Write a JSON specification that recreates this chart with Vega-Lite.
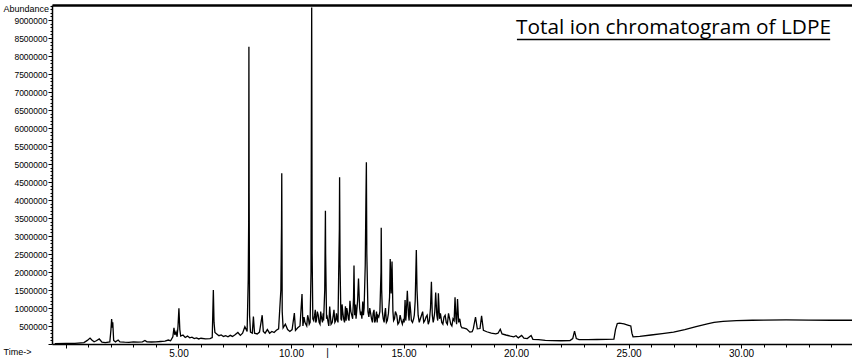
{
  "$schema": "https://vega.github.io/schema/vega-lite/v6.json",
  "width": 800,
  "height": 339,
  "autosize": "none",
  "padding": {"left": 52, "top": 5, "right": 0, "bottom": 17},
  "background": "white",
  "config": {"view": {"stroke": null}},
  "datasets": {
    "tic": [
      {"time": -0.5, "abundance": 10000}, {"time": 0.0, "abundance": 15000}, {"time": 0.4, "abundance": 20000},
      {"time": 0.8, "abundance": 40000}, {"time": 0.95, "abundance": 100000}, {"time": 1.07, "abundance": 165000},
      {"time": 1.15, "abundance": 110000}, {"time": 1.25, "abundance": 60000}, {"time": 1.35, "abundance": 90000},
      {"time": 1.48, "abundance": 140000}, {"time": 1.6, "abundance": 50000}, {"time": 1.75, "abundance": 40000},
      {"time": 1.95, "abundance": 60000}, {"time": 2.0, "abundance": 400000}, {"time": 2.03, "abundance": 690000},
      {"time": 2.06, "abundance": 450000}, {"time": 2.08, "abundance": 600000}, {"time": 2.12, "abundance": 100000},
      {"time": 2.2, "abundance": 60000}, {"time": 2.32, "abundance": 110000}, {"time": 2.4, "abundance": 60000},
      {"time": 2.6, "abundance": 50000}, {"time": 2.8, "abundance": 45000}, {"time": 3.0, "abundance": 60000},
      {"time": 3.2, "abundance": 50000}, {"time": 3.4, "abundance": 60000}, {"time": 3.51, "abundance": 100000},
      {"time": 3.6, "abundance": 60000}, {"time": 3.8, "abundance": 55000}, {"time": 4.0, "abundance": 60000},
      {"time": 4.2, "abundance": 70000}, {"time": 4.4, "abundance": 80000}, {"time": 4.55, "abundance": 110000},
      {"time": 4.65, "abundance": 90000}, {"time": 4.75, "abundance": 200000}, {"time": 4.8, "abundance": 450000},
      {"time": 4.84, "abundance": 250000}, {"time": 4.89, "abundance": 340000}, {"time": 4.94, "abundance": 200000},
      {"time": 4.98, "abundance": 500000}, {"time": 5.02, "abundance": 990000}, {"time": 5.06, "abundance": 400000},
      {"time": 5.1, "abundance": 220000}, {"time": 5.2, "abundance": 250000}, {"time": 5.3, "abundance": 180000},
      {"time": 5.4, "abundance": 220000}, {"time": 5.5, "abundance": 170000}, {"time": 5.6, "abundance": 190000},
      {"time": 5.7, "abundance": 150000}, {"time": 5.8, "abundance": 170000}, {"time": 5.9, "abundance": 140000},
      {"time": 6.0, "abundance": 160000}, {"time": 6.2, "abundance": 140000}, {"time": 6.4, "abundance": 150000},
      {"time": 6.5, "abundance": 180000}, {"time": 6.55, "abundance": 1500000}, {"time": 6.58, "abundance": 600000},
      {"time": 6.62, "abundance": 320000}, {"time": 6.7, "abundance": 280000}, {"time": 6.8, "abundance": 230000},
      {"time": 6.9, "abundance": 250000}, {"time": 7.0, "abundance": 210000}, {"time": 7.1, "abundance": 230000},
      {"time": 7.2, "abundance": 200000}, {"time": 7.3, "abundance": 240000}, {"time": 7.4, "abundance": 210000},
      {"time": 7.5, "abundance": 250000}, {"time": 7.64, "abundance": 320000}, {"time": 7.75, "abundance": 240000},
      {"time": 7.85, "abundance": 300000}, {"time": 7.95, "abundance": 480000}, {"time": 8.05, "abundance": 350000},
      {"time": 8.1, "abundance": 1800000}, {"time": 8.12, "abundance": 3400000}, {"time": 8.13, "abundance": 8260000},
      {"time": 8.14, "abundance": 4200000}, {"time": 8.16, "abundance": 800000}, {"time": 8.2, "abundance": 330000},
      {"time": 8.28, "abundance": 300000}, {"time": 8.33, "abundance": 760000}, {"time": 8.38, "abundance": 300000},
      {"time": 8.5, "abundance": 280000}, {"time": 8.6, "abundance": 330000}, {"time": 8.72, "abundance": 800000},
      {"time": 8.77, "abundance": 350000}, {"time": 8.85, "abundance": 300000}, {"time": 8.95, "abundance": 400000},
      {"time": 9.05, "abundance": 300000}, {"time": 9.15, "abundance": 350000}, {"time": 9.25, "abundance": 320000},
      {"time": 9.35, "abundance": 380000}, {"time": 9.45, "abundance": 420000}, {"time": 9.55, "abundance": 1500000},
      {"time": 9.58, "abundance": 3300000}, {"time": 9.59, "abundance": 4740000}, {"time": 9.61, "abundance": 900000},
      {"time": 9.65, "abundance": 450000}, {"time": 9.75, "abundance": 550000}, {"time": 9.85, "abundance": 400000},
      {"time": 9.95, "abundance": 350000}, {"time": 10.05, "abundance": 400000}, {"time": 10.15, "abundance": 860000},
      {"time": 10.2, "abundance": 380000}, {"time": 10.3, "abundance": 450000}, {"time": 10.4, "abundance": 500000},
      {"time": 10.49, "abundance": 1390000}, {"time": 10.53, "abundance": 500000}, {"time": 10.62, "abundance": 600000},
      {"time": 10.7, "abundance": 500000}, {"time": 10.78, "abundance": 700000}, {"time": 10.85, "abundance": 600000},
      {"time": 10.89, "abundance": 2000000}, {"time": 10.91, "abundance": 7200000}, {"time": 10.92, "abundance": 9350000},
      {"time": 10.94, "abundance": 2500000}, {"time": 10.97, "abundance": 700000}, {"time": 11.05, "abundance": 800000},
      {"time": 11.1, "abundance": 600000}, {"time": 11.17, "abundance": 900000}, {"time": 11.25, "abundance": 600000},
      {"time": 11.35, "abundance": 750000}, {"time": 11.45, "abundance": 650000}, {"time": 11.5, "abundance": 1500000},
      {"time": 11.53, "abundance": 3700000}, {"time": 11.54, "abundance": 2500000}, {"time": 11.58, "abundance": 700000},
      {"time": 11.65, "abundance": 600000}, {"time": 11.72, "abundance": 1040000}, {"time": 11.78, "abundance": 550000},
      {"time": 11.88, "abundance": 800000}, {"time": 11.95, "abundance": 600000}, {"time": 12.05, "abundance": 700000},
      {"time": 12.12, "abundance": 2000000}, {"time": 12.15, "abundance": 3200000}, {"time": 12.16, "abundance": 4630000},
      {"time": 12.18, "abundance": 2200000}, {"time": 12.22, "abundance": 700000}, {"time": 12.3, "abundance": 900000},
      {"time": 12.38, "abundance": 600000}, {"time": 12.48, "abundance": 1000000}, {"time": 12.55, "abundance": 700000},
      {"time": 12.62, "abundance": 1200000}, {"time": 12.7, "abundance": 800000}, {"time": 12.78, "abundance": 1300000},
      {"time": 12.8, "abundance": 2180000}, {"time": 12.83, "abundance": 800000}, {"time": 12.92, "abundance": 900000},
      {"time": 13.0, "abundance": 1820000}, {"time": 13.05, "abundance": 1000000}, {"time": 13.12, "abundance": 900000},
      {"time": 13.19, "abundance": 1180000}, {"time": 13.25, "abundance": 1000000}, {"time": 13.3, "abundance": 2200000},
      {"time": 13.33, "abundance": 4000000}, {"time": 13.35, "abundance": 5050000}, {"time": 13.37, "abundance": 2500000},
      {"time": 13.42, "abundance": 900000}, {"time": 13.5, "abundance": 1000000}, {"time": 13.58, "abundance": 700000},
      {"time": 13.65, "abundance": 850000}, {"time": 13.75, "abundance": 650000}, {"time": 13.85, "abundance": 800000},
      {"time": 13.95, "abundance": 900000}, {"time": 14.0, "abundance": 2000000}, {"time": 14.01, "abundance": 3230000},
      {"time": 14.03, "abundance": 1500000}, {"time": 14.1, "abundance": 700000}, {"time": 14.2, "abundance": 1000000},
      {"time": 14.28, "abundance": 650000}, {"time": 14.38, "abundance": 1300000}, {"time": 14.41, "abundance": 2360000},
      {"time": 14.45, "abundance": 1400000}, {"time": 14.49, "abundance": 2290000}, {"time": 14.53, "abundance": 900000},
      {"time": 14.6, "abundance": 700000}, {"time": 14.7, "abundance": 800000}, {"time": 14.8, "abundance": 600000},
      {"time": 14.9, "abundance": 650000}, {"time": 15.0, "abundance": 700000}, {"time": 15.07, "abundance": 1220000},
      {"time": 15.12, "abundance": 800000}, {"time": 15.17, "abundance": 1480000}, {"time": 15.22, "abundance": 800000},
      {"time": 15.28, "abundance": 1180000}, {"time": 15.35, "abundance": 650000}, {"time": 15.45, "abundance": 700000},
      {"time": 15.52, "abundance": 1200000}, {"time": 15.57, "abundance": 2610000}, {"time": 15.6, "abundance": 1500000},
      {"time": 15.65, "abundance": 800000}, {"time": 15.75, "abundance": 700000}, {"time": 15.85, "abundance": 900000},
      {"time": 15.95, "abundance": 650000}, {"time": 16.05, "abundance": 800000}, {"time": 16.15, "abundance": 650000},
      {"time": 16.2, "abundance": 1000000}, {"time": 16.24, "abundance": 1730000}, {"time": 16.28, "abundance": 800000},
      {"time": 16.35, "abundance": 700000}, {"time": 16.43, "abundance": 1430000}, {"time": 16.48, "abundance": 800000},
      {"time": 16.55, "abundance": 1410000}, {"time": 16.6, "abundance": 700000}, {"time": 16.7, "abundance": 600000},
      {"time": 16.8, "abundance": 750000}, {"time": 16.9, "abundance": 600000}, {"time": 17.0, "abundance": 850000},
      {"time": 17.1, "abundance": 550000}, {"time": 17.2, "abundance": 700000}, {"time": 17.29, "abundance": 1300000},
      {"time": 17.33, "abundance": 700000}, {"time": 17.4, "abundance": 1250000}, {"time": 17.45, "abundance": 600000},
      {"time": 17.55, "abundance": 500000}, {"time": 17.65, "abundance": 450000}, {"time": 17.8, "abundance": 420000},
      {"time": 17.95, "abundance": 330000}, {"time": 18.05, "abundance": 340000}, {"time": 18.1, "abundance": 420000},
      {"time": 18.2, "abundance": 750000}, {"time": 18.28, "abundance": 420000}, {"time": 18.4, "abundance": 430000},
      {"time": 18.47, "abundance": 780000}, {"time": 18.55, "abundance": 380000}, {"time": 18.7, "abundance": 340000},
      {"time": 18.9, "abundance": 300000}, {"time": 19.1, "abundance": 280000}, {"time": 19.2, "abundance": 300000},
      {"time": 19.3, "abundance": 410000}, {"time": 19.38, "abundance": 280000}, {"time": 19.55, "abundance": 250000},
      {"time": 19.75, "abundance": 220000}, {"time": 19.9, "abundance": 200000}, {"time": 20.0, "abundance": 230000},
      {"time": 20.1, "abundance": 170000}, {"time": 20.25, "abundance": 240000}, {"time": 20.35, "abundance": 160000},
      {"time": 20.5, "abundance": 150000}, {"time": 20.67, "abundance": 235000}, {"time": 20.75, "abundance": 130000},
      {"time": 21.0, "abundance": 120000}, {"time": 21.3, "abundance": 100000}, {"time": 21.6, "abundance": 95000},
      {"time": 22.0, "abundance": 90000}, {"time": 22.4, "abundance": 95000}, {"time": 22.52, "abundance": 150000},
      {"time": 22.6, "abundance": 360000}, {"time": 22.68, "abundance": 150000}, {"time": 22.8, "abundance": 120000},
      {"time": 23.2, "abundance": 120000}, {"time": 23.6, "abundance": 125000}, {"time": 24.0, "abundance": 130000},
      {"time": 24.35, "abundance": 135000}, {"time": 24.42, "abundance": 400000}, {"time": 24.5, "abundance": 570000},
      {"time": 24.6, "abundance": 580000}, {"time": 24.8, "abundance": 560000}, {"time": 25.0, "abundance": 520000},
      {"time": 25.1, "abundance": 500000}, {"time": 25.15, "abundance": 300000}, {"time": 25.2, "abundance": 200000},
      {"time": 25.5, "abundance": 210000}, {"time": 26.0, "abundance": 250000}, {"time": 26.5, "abundance": 290000},
      {"time": 27.0, "abundance": 330000}, {"time": 27.5, "abundance": 400000}, {"time": 28.0, "abundance": 480000},
      {"time": 28.5, "abundance": 560000}, {"time": 28.8, "abundance": 600000}, {"time": 29.2, "abundance": 630000},
      {"time": 29.8, "abundance": 650000}, {"time": 30.5, "abundance": 660000}, {"time": 31.0, "abundance": 665000},
      {"time": 32.0, "abundance": 670000}, {"time": 33.0, "abundance": 665000}, {"time": 34.0, "abundance": 660000},
      {"time": 34.93, "abundance": 660000},
      {"time": 10.58, "abundance": 750000}, {"time": 10.66, "abundance": 550000}, {"time": 10.74, "abundance": 800000},
      {"time": 10.81, "abundance": 550000}, {"time": 11.01, "abundance": 650000}, {"time": 11.08, "abundance": 950000},
      {"time": 11.13, "abundance": 650000}, {"time": 11.21, "abundance": 800000}, {"time": 11.29, "abundance": 550000},
      {"time": 11.32, "abundance": 900000}, {"time": 11.4, "abundance": 600000}, {"time": 11.43, "abundance": 850000},
      {"time": 11.61, "abundance": 750000}, {"time": 11.68, "abundance": 500000}, {"time": 11.75, "abundance": 800000},
      {"time": 11.83, "abundance": 600000}, {"time": 11.91, "abundance": 950000}, {"time": 11.99, "abundance": 650000},
      {"time": 12.02, "abundance": 850000}, {"time": 12.09, "abundance": 600000}, {"time": 12.25, "abundance": 650000},
      {"time": 12.27, "abundance": 1100000}, {"time": 12.34, "abundance": 700000}, {"time": 12.42, "abundance": 1050000},
      {"time": 12.45, "abundance": 650000}, {"time": 12.52, "abundance": 850000}, {"time": 12.58, "abundance": 650000},
      {"time": 12.66, "abundance": 900000}, {"time": 12.74, "abundance": 700000}, {"time": 12.87, "abundance": 1100000},
      {"time": 12.89, "abundance": 700000}, {"time": 12.96, "abundance": 1200000}, {"time": 13.09, "abundance": 800000},
      {"time": 13.15, "abundance": 700000}, {"time": 13.22, "abundance": 800000}, {"time": 13.46, "abundance": 750000},
      {"time": 13.54, "abundance": 850000}, {"time": 13.62, "abundance": 600000}, {"time": 13.69, "abundance": 950000},
      {"time": 13.72, "abundance": 600000}, {"time": 13.8, "abundance": 900000}, {"time": 13.83, "abundance": 600000},
      {"time": 13.9, "abundance": 750000}, {"time": 14.06, "abundance": 900000}, {"time": 14.14, "abundance": 600000},
      {"time": 14.17, "abundance": 850000}, {"time": 14.24, "abundance": 600000}, {"time": 14.33, "abundance": 850000},
      {"time": 14.56, "abundance": 650000}, {"time": 14.64, "abundance": 900000}, {"time": 14.75, "abundance": 550000},
      {"time": 14.85, "abundance": 800000}, {"time": 14.95, "abundance": 550000}, {"time": 15.03, "abundance": 600000},
      {"time": 15.1, "abundance": 650000}, {"time": 15.25, "abundance": 650000}, {"time": 15.32, "abundance": 900000},
      {"time": 15.4, "abundance": 600000}, {"time": 15.48, "abundance": 800000}, {"time": 15.7, "abundance": 600000},
      {"time": 15.8, "abundance": 800000}, {"time": 15.9, "abundance": 600000}, {"time": 16.0, "abundance": 750000},
      {"time": 16.1, "abundance": 550000}, {"time": 16.32, "abundance": 600000}, {"time": 16.39, "abundance": 900000},
      {"time": 16.52, "abundance": 650000}, {"time": 16.64, "abundance": 850000}, {"time": 16.75, "abundance": 550000},
      {"time": 16.85, "abundance": 800000}, {"time": 16.95, "abundance": 550000}, {"time": 17.05, "abundance": 700000},
      {"time": 17.15, "abundance": 500000}, {"time": 17.25, "abundance": 650000}, {"time": 17.36, "abundance": 550000},
      {"time": 17.5, "abundance": 700000}, {"time": 17.6, "abundance": 450000}
    ],
    "note": [
      {"label": "Total ion chromatogram of LDPE", "time": 27.0, "abundance": 8625000, "start": 20.04, "end": 33.96, "line": 8460000}
    ]
  },
  "resolve": {"axis": {"x": "independent"}},
  "layer": [
    {
      "data": {"name": "tic"},
      "mark": {"type": "line", "color": "black", "strokeWidth": 1.3, "clip": true},
      "encoding": {
        "x": {
          "field": "time", "type": "quantitative",
          "scale": {"domain": [-0.62, 34.93], "nice": false, "zero": false},
          "axis": {
            "orient": "bottom",
            "values": [0,1,2,3,4,5,6,7,8,9,10,11,11.6,12,13,14,15,16,17,18,19,20,21,22,23,24,25,26,27,28,29,30,31,32,33,34],
            "labelExpr": "datum.value === 11.6 ? '|' : (datum.value % 5 === 0 && datum.value > 0 ? format(datum.value, '.2f') : '')",
            "labelOverlap": false,
            "labelFlush": false,
            "tickSize": {"condition": {"test": "datum.value % 5 === 0", "value": 4}, "value": 3},
            "tickOpacity": {"condition": {"test": "datum.value === 11.6", "value": 0}, "value": 1},
            "tickColor": "black",
            "domainColor": "black",
            "domainWidth": 1.5,
            "grid": false,
            "labelFont": "Liberation Sans",
            "labelFontSize": 10,
            "labelColor": "black",
            "labelPadding": 0,
            "title": "Time->",
            "titleFont": "Liberation Sans",
            "titleFontSize": 9,
            "titleFontWeight": "normal",
            "titleColor": "black",
            "titleAlign": "left",
            "titleBaseline": "middle",
            "titleAnchor": null,
            "titleX": -49,
            "titleY": 7
          }
        },
        "y": {
          "field": "abundance", "type": "quantitative",
          "scale": {"domain": [0, 9416667], "nice": false},
          "axis": {
            "orient": "left",
            "tickCount": 94,
            "labelExpr": "datum.value % 500000 === 0 && datum.value > 0 ? format(datum.value, 'd') : ''",
            "labelOverlap": false,
            "labelFlush": false,
            "tickSize": {"condition": {"test": "datum.value % 500000 === 0", "value": 4}, "value": 2},
            "tickColor": "black",
            "domainColor": "black",
            "domainWidth": 1.5,
            "grid": false,
            "labelFont": "Liberation Sans",
            "labelFontSize": 8.5,
            "labelColor": "black",
            "labelPadding": 1,
            "title": "Abundance",
            "titleFont": "Liberation Sans",
            "titleFontSize": 9,
            "titleFontWeight": "normal",
            "titleColor": "black",
            "titleAngle": 0,
            "titleAlign": "left",
            "titleBaseline": "middle",
            "titleAnchor": null,
            "titleX": -49,
            "titleY": 3
          }
        }
      }
    },
    {
      "data": {"name": "note"},
      "mark": {"type": "rule", "color": "black", "strokeWidth": 1.5},
      "encoding": {
        "x": {"field": "start", "type": "quantitative",
          "axis": {"orient": "top", "labels": false, "ticks": false, "title": null, "domainColor": "black", "domainWidth": 2.5, "grid": false}},
        "x2": {"field": "end"},
        "y": {"field": "line", "type": "quantitative"}
      }
    },
    {
      "data": {"name": "note"},
      "mark": {"type": "text", "font": "Open Sans", "fontSize": 20.8, "color": "black", "align": "center", "baseline": "alphabetic"},
      "encoding": {
        "x": {"field": "time", "type": "quantitative", "axis": null},
        "y": {"field": "abundance", "type": "quantitative"},
        "text": {"field": "label"}
      }
    }
  ]
}
